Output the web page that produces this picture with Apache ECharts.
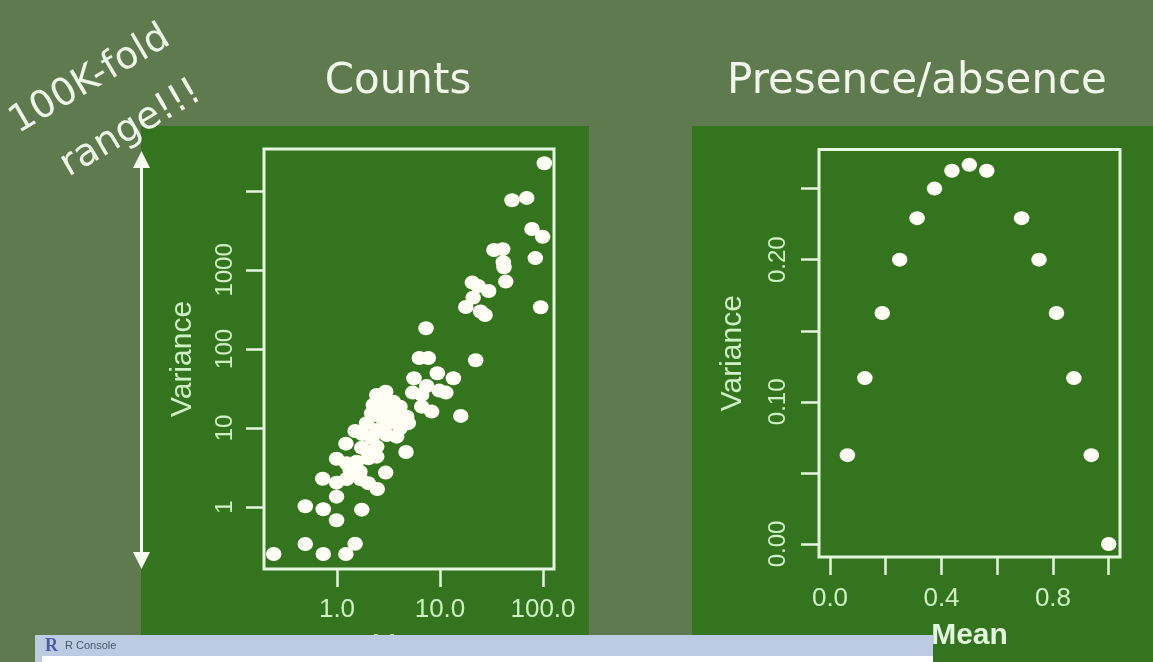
<!DOCTYPE html>
<html><head><meta charset="utf-8">
<script src="https://cdn.jsdelivr.net/npm/echarts@6/dist/echarts.min.js"></script>
<style>html,body{margin:0;padding:0;background:#5f7a4e;overflow:hidden}#main{width:1153px;height:662px;filter:blur(0.6px)}</style>
</head><body><div id="main"></div>
<script>
const countsMean = [103,50,69.5,78.2,99.3,84.2,33.4,40.6,41.2,41.8,43.5,20.6,23.5,29.7,21,17.8,24.8,27.4,95,7.31,6.3,7.7,22.2,9.42,5.59,13.5,7.43,5.43,9.84,11.4,6.64,6.64,8.3,15.9,2.97,2.43,2.82,2.25,3.52,4.09,2.17,2.82,3.52,4.75,1.94,2.62,3.15,4.92,2.43,3.04,3.8,4.09,1.5,1.76,1.22,1.74,2.43,2.43,2.01,4.68,0.99,1.24,1.55,1.67,1.34,2.97,0.726,0.99,1.24,1.7,2.01,2.46,0.99,0.492,0.736,1.74,0.99,0.492,1.5,0.736,1.22,0.243,2.09,1.4,2.73,3.34,3.91,2.19];
const countsVariance = [22400,7620,8150,3300,2620,1410,1790,1830,1250,1080,711,691,627,542,446,340,297,269,337,183,76.9,76.9,71.9,49.2,42.6,42.6,34,28,29.7,28,26.2,18.6,16.1,14.2,28.8,26.2,22.6,19.6,21.5,18.6,15.3,16.9,15.3,13.9,11.5,13.9,11.5,11.5,9.43,8.15,7.76,9.91,9.16,8.39,6.33,5.63,5.8,4.33,4.13,4.97,4.08,3.57,3.74,2.8,2.94,2.72,2.28,2.03,2.26,2.24,2,1.69,1.35,1.02,0.935,0.925,0.679,0.34,0.343,0.254,0.254,0.254,4.97,3.3,9.43,13.4,12.6,7.47];
const presenceMean = [0.0625,0.125,0.1875,0.25,0.3125,0.375,0.4375,0.5,0.5625,0.6875,0.75,0.8125,0.875,0.9375,1];
const presenceVariance = [0.0625,0.1167,0.1625,0.2,0.2292,0.25,0.2625,0.2667,0.2625,0.2292,0.2,0.1625,0.1167,0.0625,0];
const countsXTicks = [1,10,100];
const countsXLabels = ['1.0','10.0','100.0'];
const countsYTicks = [1,10,100,1000,10000];
const countsYLabels = [1,10,100,1000];
const presenceXTicks = [0,0.2,0.4,0.6,0.8,1];
const presenceXLabels = [0,0.4,0.8];
const presenceYTicks = [0,0.05,0.1,0.15,0.2,0.25];
const presenceYLabels = [0,0.1,0.2];

const LINE='#e4f7de', TXT='#cdf2c4', DOT='#fffff6';
const pair=(a,b)=>a.map((v,i)=>[v,b[i]]);
function ax(type,min,max,ticks,extra){
  return Object.assign({type,min,max,logBase:10,scale:true,splitLine:{show:false},
    axisLine:{show:false,onZero:false},
    axisTick:{show:true,length:18,customValues:ticks,lineStyle:{color:LINE,width:2.5}},
    nameLocation:'middle',nameTextStyle:{color:TXT,fontFamily:'Liberation Sans',fontSize:30}},extra);
}
const lab=(vals,fmt,size,margin,rot)=>({customValues:vals,formatter:fmt,color:TXT,fontFamily:'Liberation Sans',fontSize:size,margin,rotate:rot||0,hideOverlap:false});
const chart=echarts.init(document.getElementById('main'),null,{renderer:'canvas'});
chart.setOption({
  animation:false,
  backgroundColor:'#5f7a4e',
  grid:[
    {left:264,top:149,width:290,height:420,show:true,borderColor:LINE,borderWidth:3,backgroundColor:'transparent',containLabel:false,outerBoundsMode:'none'},
    {left:819,top:149.5,width:301,height:407.5,show:true,borderColor:LINE,borderWidth:3,backgroundColor:'transparent',containLabel:false,outerBoundsMode:'none'}
  ],
  xAxis:[
    ax('log',0.1955,127.9,countsXTicks,{gridIndex:0,name:'Mean',nameGap:62,axisLabel:lab(countsXTicks,v=>countsXLabels[countsXTicks.indexOf(Math.round(v))],26,28)}),
    ax('value',-0.0395,1.0405,presenceXTicks,{gridIndex:1,name:'Mean',nameGap:64,z:60,nameTextStyle:{color:'#e4f7de',fontFamily:'Liberation Sans',fontSize:30,fontWeight:'bold'},axisLabel:lab(presenceXLabels,v=>v.toFixed(1),26,29)})
  ],
  yAxis:[
    ax('log',0.164,33900,countsYTicks,{gridIndex:0,name:'Variance',nameGap:66,axisLabel:lab(countsYLabels,v=>String(Math.round(v)),24,27,90)}),
    ax('value',-0.00915,0.2775,presenceYTicks,{gridIndex:1,name:'Variance',nameGap:71,axisLabel:lab(presenceYLabels,v=>v.toFixed(2),24,29,90)})
  ],
  series:[
    {type:'scatter',xAxisIndex:0,yAxisIndex:0,data:pair(countsMean,countsVariance),symbol:'circle',symbolSize:[15.5,14],itemStyle:{color:DOT,opacity:1},silent:true},
    {type:'scatter',xAxisIndex:1,yAxisIndex:1,data:pair(presenceMean,presenceVariance),symbol:'circle',symbolSize:[15.5,14],itemStyle:{color:DOT,opacity:1},silent:true}
  ],
  graphic:{elements:[
    {type:'rect',z:-10,shape:{x:141,y:126,width:448,height:536},style:{fill:'#34741f'}},
    {type:'rect',z:-10,shape:{x:692,y:126,width:461,height:536},style:{fill:'#34741f'}},
    {type:'text',z:10,x:398,y:82,style:{text:'Counts',fill:'#f0f7ea',font:'42px "DejaVu Sans"',align:'center',verticalAlign:'middle'}},
    {type:'text',z:10,x:917,y:82,style:{text:'Presence/absence',fill:'#f0f7ea',font:'42px "DejaVu Sans"',align:'center',verticalAlign:'middle'}},
    {type:'text',z:10,x:90,y:80,rotation:0.53,style:{text:'100K-fold',fill:'#eef8e8',font:'38px "DejaVu Sans"',align:'center',verticalAlign:'middle'}},
    {type:'text',z:10,x:131,y:129,rotation:0.53,style:{text:'range!!!',fill:'#eef8e8',font:'38px "DejaVu Sans"',align:'center',verticalAlign:'middle'}},
    {type:'line',z:10,shape:{x1:141.5,y1:160,x2:141.5,y2:558},style:{stroke:'#f2fbec',lineWidth:3}},
    {type:'polygon',z:10,shape:{points:[[141.5,151],[133,168],[150,168]]},style:{fill:'#f6fcf0'}},
    {type:'polygon',z:10,shape:{points:[[141.5,569],[133,552],[150,552]]},style:{fill:'#f6fcf0'}},
    {type:'rect',z:50,shape:{x:35,y:635,width:898,height:27},style:{fill:'#bccae2'}},
    {type:'rect',z:51,shape:{x:42,y:656,width:891,height:6},style:{fill:'#ffffff'}},
    {type:'text',z:52,x:45,y:646,style:{text:'R',fill:'#4a5aa8',font:'bold 18px "Liberation Serif"',verticalAlign:'middle'}},
    {type:'text',z:52,x:65,y:646,style:{text:'R Console',fill:'#4b5568',font:'11px "Liberation Sans"',verticalAlign:'middle'}}
  ]}
});
</script></body></html>
